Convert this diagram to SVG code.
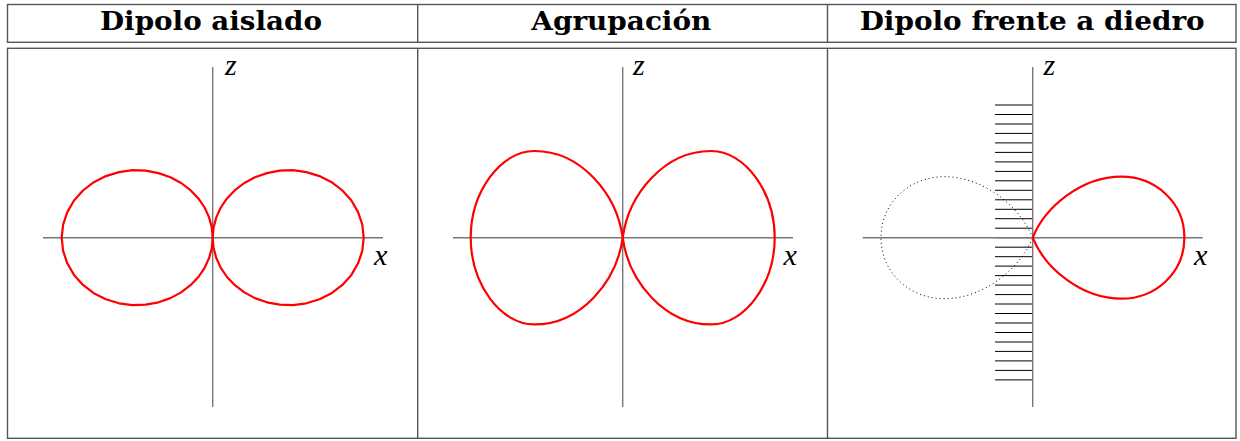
<svg xmlns="http://www.w3.org/2000/svg" width="1240" height="441" viewBox="0 0 1240 441">
  <style>
    .tbl { fill: none; stroke: #555; stroke-width: 1.4; }
    .head { font-family: "DejaVu Serif", "Liberation Serif", serif; font-weight: bold; font-size: 26.5px; fill: #000; text-anchor: middle; }
    .axis { stroke: #777; stroke-width: 1.4; fill: none; }
    .math { font-family: "Liberation Serif", "DejaVu Serif", serif; font-style: italic; font-size: 30px; fill: #000; }
    .lobe { fill: none; stroke: #ff0000; stroke-width: 2.2; stroke-linejoin: round; }
    .image { fill: none; stroke: #000; stroke-width: 1; stroke-dasharray: 1 3; }
    .hatch { stroke: #000; stroke-width: 1; }
  </style>
  <defs>
    <path id="lobeDipole" d="M0,0 L0.9,-10.3 L3.6,-20.3 L8.1,-30.2 L14.3,-39.3 L22.2,-47.5 L31.6,-54.7 L42.3,-60.4 L54.2,-64.6 L67.0,-67.0 L80.3,-67.5 L93.7,-65.6 L106.8,-61.6 L118.9,-55.5 L129.7,-47.2 L138.7,-37.2 L145.4,-25.6 L149.6,-13.1 L151,0 L149.6,13.1 L145.4,25.6 L138.7,37.2 L129.7,47.2 L118.9,55.5 L106.8,61.6 L93.7,65.6 L80.3,67.5 L67.0,67.0 L54.2,64.6 L42.3,60.4 L31.6,54.7 L22.2,47.5 L14.3,39.3 L8.1,30.2 L3.6,20.3 L0.9,10.3 Z"/>
    <path id="lobeArray" d="M0,0 C6,-44 42,-87 88.7,-86.7 C122,-86.7 152,-46 152,0 C152,46 122,86.7 88.7,86.7 C42,87 6,44 0,0 Z"/>
    <path id="lobeReflector" d="M0,0 C12,-30 48,-61 88.7,-61 C122,-61 151.7,-36 151.7,0 C151.7,36 122,61 88.7,61 C48,61 12,30 0,0 Z"/>
  </defs>

  <g id="table">
    <rect class="tbl" x="7.5" y="4.5" width="1228.5" height="37.8"/>
    <line class="tbl" x1="417.7" y1="4.5" x2="417.7" y2="42.3"/>
    <line class="tbl" x1="827.5" y1="4.5" x2="827.5" y2="42.3"/>
    <rect class="tbl" x="7.5" y="48.3" width="1228.5" height="390"/>
    <line class="tbl" x1="417.7" y1="48.3" x2="417.7" y2="438.3"/>
    <line class="tbl" x1="827.5" y1="48.3" x2="827.5" y2="438.3"/>
    <text class="head" x="211" y="30" textLength="222" lengthAdjust="spacingAndGlyphs">Dipolo aislado</text>
    <text class="head" x="621.3" y="30" textLength="180" lengthAdjust="spacingAndGlyphs">Agrupación</text>
    <text class="head" x="1032.2" y="30" textLength="345" lengthAdjust="spacingAndGlyphs">Dipolo frente a diedro</text>
  </g>

  <g id="panel-dipolo-aislado">
    <line class="axis" x1="212.7" y1="67" x2="212.7" y2="407"/>
    <line class="axis" x1="43" y1="237.7" x2="383" y2="237.7"/>
    <text class="math" x="225" y="75">z</text>
    <text class="math" x="374" y="265">x</text>
    <use href="#lobeDipole" class="lobe" transform="translate(212.7,237.7)"/>
    <use href="#lobeDipole" class="lobe" transform="translate(212.7,237.7) scale(-1,1)"/>
  </g>

  <g id="panel-agrupacion">
    <line class="axis" x1="622.7" y1="67" x2="622.7" y2="407"/>
    <line class="axis" x1="453" y1="237.7" x2="793" y2="237.7"/>
    <text class="math" x="633" y="75">z</text>
    <text class="math" x="783.5" y="265">x</text>
    <use href="#lobeArray" class="lobe" transform="translate(622.7,237.7)"/>
    <use href="#lobeArray" class="lobe" transform="translate(622.7,237.7) scale(-1,1)"/>
  </g>

  <g id="panel-dipolo-diedro">
    <g id="hatch" class="hatch">
      <line x1="995" y1="105.0" x2="1032.7" y2="105.0"/>
      <line x1="995" y1="114.5" x2="1032.7" y2="114.5"/>
      <line x1="995" y1="124.0" x2="1032.7" y2="124.0"/>
      <line x1="995" y1="133.4" x2="1032.7" y2="133.4"/>
      <line x1="995" y1="142.9" x2="1032.7" y2="142.9"/>
      <line x1="995" y1="152.4" x2="1032.7" y2="152.4"/>
      <line x1="995" y1="161.9" x2="1032.7" y2="161.9"/>
      <line x1="995" y1="171.4" x2="1032.7" y2="171.4"/>
      <line x1="995" y1="180.8" x2="1032.7" y2="180.8"/>
      <line x1="995" y1="190.3" x2="1032.7" y2="190.3"/>
      <line x1="995" y1="199.8" x2="1032.7" y2="199.8"/>
      <line x1="995" y1="209.3" x2="1032.7" y2="209.3"/>
      <line x1="995" y1="218.7" x2="1032.7" y2="218.7"/>
      <line x1="995" y1="228.2" x2="1032.7" y2="228.2"/>
      <line x1="995" y1="237.7" x2="1032.7" y2="237.7"/>
      <line x1="995" y1="247.2" x2="1032.7" y2="247.2"/>
      <line x1="995" y1="256.7" x2="1032.7" y2="256.7"/>
      <line x1="995" y1="266.1" x2="1032.7" y2="266.1"/>
      <line x1="995" y1="275.6" x2="1032.7" y2="275.6"/>
      <line x1="995" y1="285.1" x2="1032.7" y2="285.1"/>
      <line x1="995" y1="294.6" x2="1032.7" y2="294.6"/>
      <line x1="995" y1="304.0" x2="1032.7" y2="304.0"/>
      <line x1="995" y1="313.5" x2="1032.7" y2="313.5"/>
      <line x1="995" y1="323.0" x2="1032.7" y2="323.0"/>
      <line x1="995" y1="332.5" x2="1032.7" y2="332.5"/>
      <line x1="995" y1="342.0" x2="1032.7" y2="342.0"/>
      <line x1="995" y1="351.4" x2="1032.7" y2="351.4"/>
      <line x1="995" y1="360.9" x2="1032.7" y2="360.9"/>
      <line x1="995" y1="370.4" x2="1032.7" y2="370.4"/>
      <line x1="995" y1="379.9" x2="1032.7" y2="379.9"/>
    </g>
    <line class="axis" x1="1032.7" y1="67" x2="1032.7" y2="407"/>
    <line class="axis" x1="862.7" y1="237.7" x2="1202.7" y2="237.7"/>
    <text class="math" x="1043.5" y="75">z</text>
    <text class="math" x="1194" y="265">x</text>
    <use href="#lobeReflector" class="image" transform="translate(1032.7,237.7) scale(-1,1)"/>
    <use href="#lobeReflector" class="lobe" transform="translate(1032.7,237.7)"/>
  </g>
</svg>
